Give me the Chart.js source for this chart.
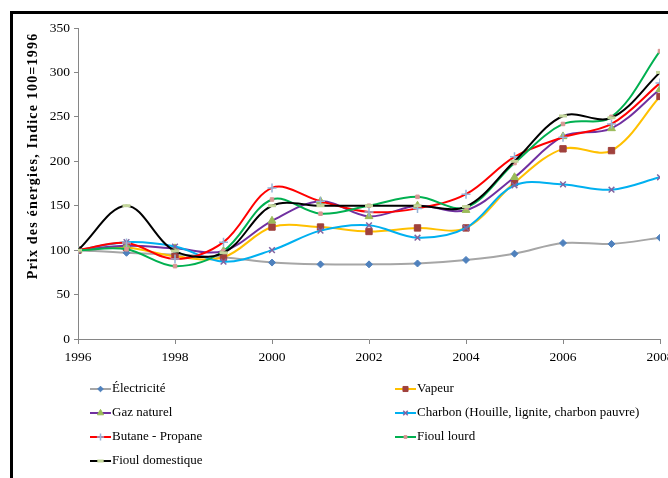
<!DOCTYPE html>
<html>
<head>
<meta charset="utf-8">
<script src="https://cdn.jsdelivr.net/npm/chart.js@4.4.1/dist/chart.umd.min.js"></script>
<style>
    html, body { margin: 0; padding: 0; background: #fff; overflow: hidden; }
    body { width: 668px; height: 478px; position: relative; }
    .frame {
        position: absolute; left: 10px; top: 11px; width: 720px; height: 520px;
        border-top: 3px solid #000; border-left: 3px solid #000;
    }
    .wrap { position: absolute; left: 0; top: 0; width: 700px; height: 478px; }
</style>
</head>
<body>
<div class="frame"></div>
<div class="wrap"><canvas id="prixChart" width="700" height="478"></canvas></div>
<script>
const years = [1996, 1997, 1998, 1999, 2000, 2001, 2002, 2003, 2004, 2005, 2006, 2007, 2008];
const yearTicks = [1996, 1998, 2000, 2002, 2004, 2006, 2008];

const electricite     = [100, 97, 95, 92, 86, 84, 84, 85, 89, 96, 108, 107, 114];
const vapeur          = [100, 103, 93, 92, 126, 126, 121, 125, 125, 176, 214, 212, 273];
const gazNaturel      = [100, 105, 102, 99, 133, 155, 138, 150, 145, 182, 228, 237, 281];
const charbon         = [100, 109, 104, 87, 100, 122, 128, 114, 125, 173, 174, 168, 182];
const butanePropane   = [100, 108, 90, 109, 170, 155, 143, 147, 163, 205, 227, 242, 288];
const fioulLourd      = [100, 101, 82, 99, 157, 141, 150, 160, 148, 198, 242, 250, 324];
const fioulDomestique = [100, 150, 99, 97, 150, 150, 150, 150, 149, 200, 251, 249, 300];

const seriesNames = [
    'Électricité', 'Vapeur', 'Gaz naturel', 'Charbon (Houille, lignite, charbon pauvre)',
    'Butane - Propane', 'Fioul lourd', 'Fioul domestique'
];
const seriesValues = [electricite, vapeur, gazNaturel, charbon, butanePropane, fioulLourd, fioulDomestique];

// line colour, marker colour, marker style, marker radius
const styles = [
    { line: '#A6A6A6', mark: '#4F81BD', shape: 'rectRot', r: 3.5, bw: 1 },
    { line: '#FFC000', mark: '#A0413C', shape: 'rect', r: 4.5, bw: 1 },
    { line: '#7030A0', mark: '#9BBB59', shape: 'triangle', r: 4.5, bw: 1 },
    { line: '#00B0F0', mark: '#8064A2', shape: 'crossRot', r: 4, bw: 1.5 },
    { line: '#FF0000', mark: '#95B3D7', shape: 'cross', r: 4.5, bw: 1.5 },
    { line: '#00B050', mark: '#D99694', shape: 'rect', r: 2.5, bw: 1 },
    { line: '#000000', mark: '#C3D69B', shape: 'line', r: 4, bw: 3 }
];

const FONT = "'Liberation Serif', 'Times New Roman', serif";

// Y title + two-column legend, drawn like the Excel original
const extras = {
    id: 'extras',
    afterDraw(chart) {
        const ctx = chart.ctx;
        ctx.save();
        ctx.fillStyle = '#000';
        ctx.font = "bold 14px " + FONT;
        ctx.letterSpacing = '1.2px';
        ctx.translate(37, 156);
        ctx.rotate(-Math.PI / 2);
        ctx.textAlign = 'center';
        ctx.textBaseline = 'alphabetic';
        ctx.fillText('Prix des énergies, Indice 100=1996', 0, 0);
        ctx.restore();

        ctx.save();
        ctx.font = "13px " + FONT;
        ctx.textBaseline = 'middle';
        ctx.textAlign = 'left';
        chart.data.datasets.forEach((ds, i) => {
            const x0 = i % 2 === 0 ? 90 : 395;
            const y = 389 + Math.floor(i / 2) * 24;
            const st = styles[i];
            ctx.strokeStyle = st.line;
            ctx.lineWidth = 2;
            ctx.beginPath();
            ctx.moveTo(x0, y);
            ctx.lineTo(x0 + 21, y);
            ctx.stroke();
            ctx.fillStyle = st.mark;
            ctx.strokeStyle = st.mark;
            ctx.lineWidth = st.bw;
            Chart.helpers.drawPoint(ctx, { pointStyle: st.shape, radius: st.r * 0.8, borderWidth: st.bw, rotation: 0 }, x0 + 10.5, y);
            ctx.fillStyle = '#000';
            ctx.fillText(ds.label, x0 + 22, y);
        });
        ctx.restore();
    }
};

document.addEventListener('DOMContentLoaded', () => {
    const ctx = document.getElementById('prixChart');
    new Chart(ctx, {
        type: 'line',
        data: {
            datasets: seriesNames.map((name, i) => ({
                label: name,
                data: years.map((yr, k) => ({ x: yr, y: seriesValues[i][k] })),
                borderColor: styles[i].line,
                borderWidth: 2,
                backgroundColor: styles[i].mark,
                pointBackgroundColor: styles[i].mark,
                pointBorderColor: styles[i].mark,
                pointBorderWidth: styles[i].bw,
                pointStyle: styles[i].shape,
                pointRadius: styles[i].r,
                tension: 0.35,
                fill: false,
                order: seriesNames.length - i
            }))
        },
        options: {
            responsive: false,
            animation: false,
            layout: { padding: { left: 0, right: 40, top: 28, bottom: 109 } },
            plugins: { legend: { display: false }, tooltip: { enabled: false } },
            scales: {
                x: {
                    type: 'linear',
                    min: 1996,
                    max: 2008,
                    afterBuildTicks: (s) => { s.ticks = yearTicks.map(v => ({ value: v })); },
                    afterFit: (s) => { s.height = 30; },
                    grid: { drawOnChartArea: false, drawTicks: true, tickLength: 5, color: '#868686' },
                    border: { color: '#868686', width: 1 },
                    ticks: { color: '#000', font: { family: FONT, size: 13.5 }, padding: 5, callback: v => String(v) }
                },
                y: {
                    min: 0,
                    max: 350,
                    ticks: { stepSize: 50, color: '#000', font: { family: FONT, size: 13.5 }, padding: 4 },
                    afterFit: (s) => { s.width = 78; },
                    grid: { drawOnChartArea: false, drawTicks: true, tickLength: 4, color: '#868686' },
                    border: { color: '#868686', width: 1 }
                }
            }
        },
        plugins: [extras]
    });
});
</script>
</body>
</html>
